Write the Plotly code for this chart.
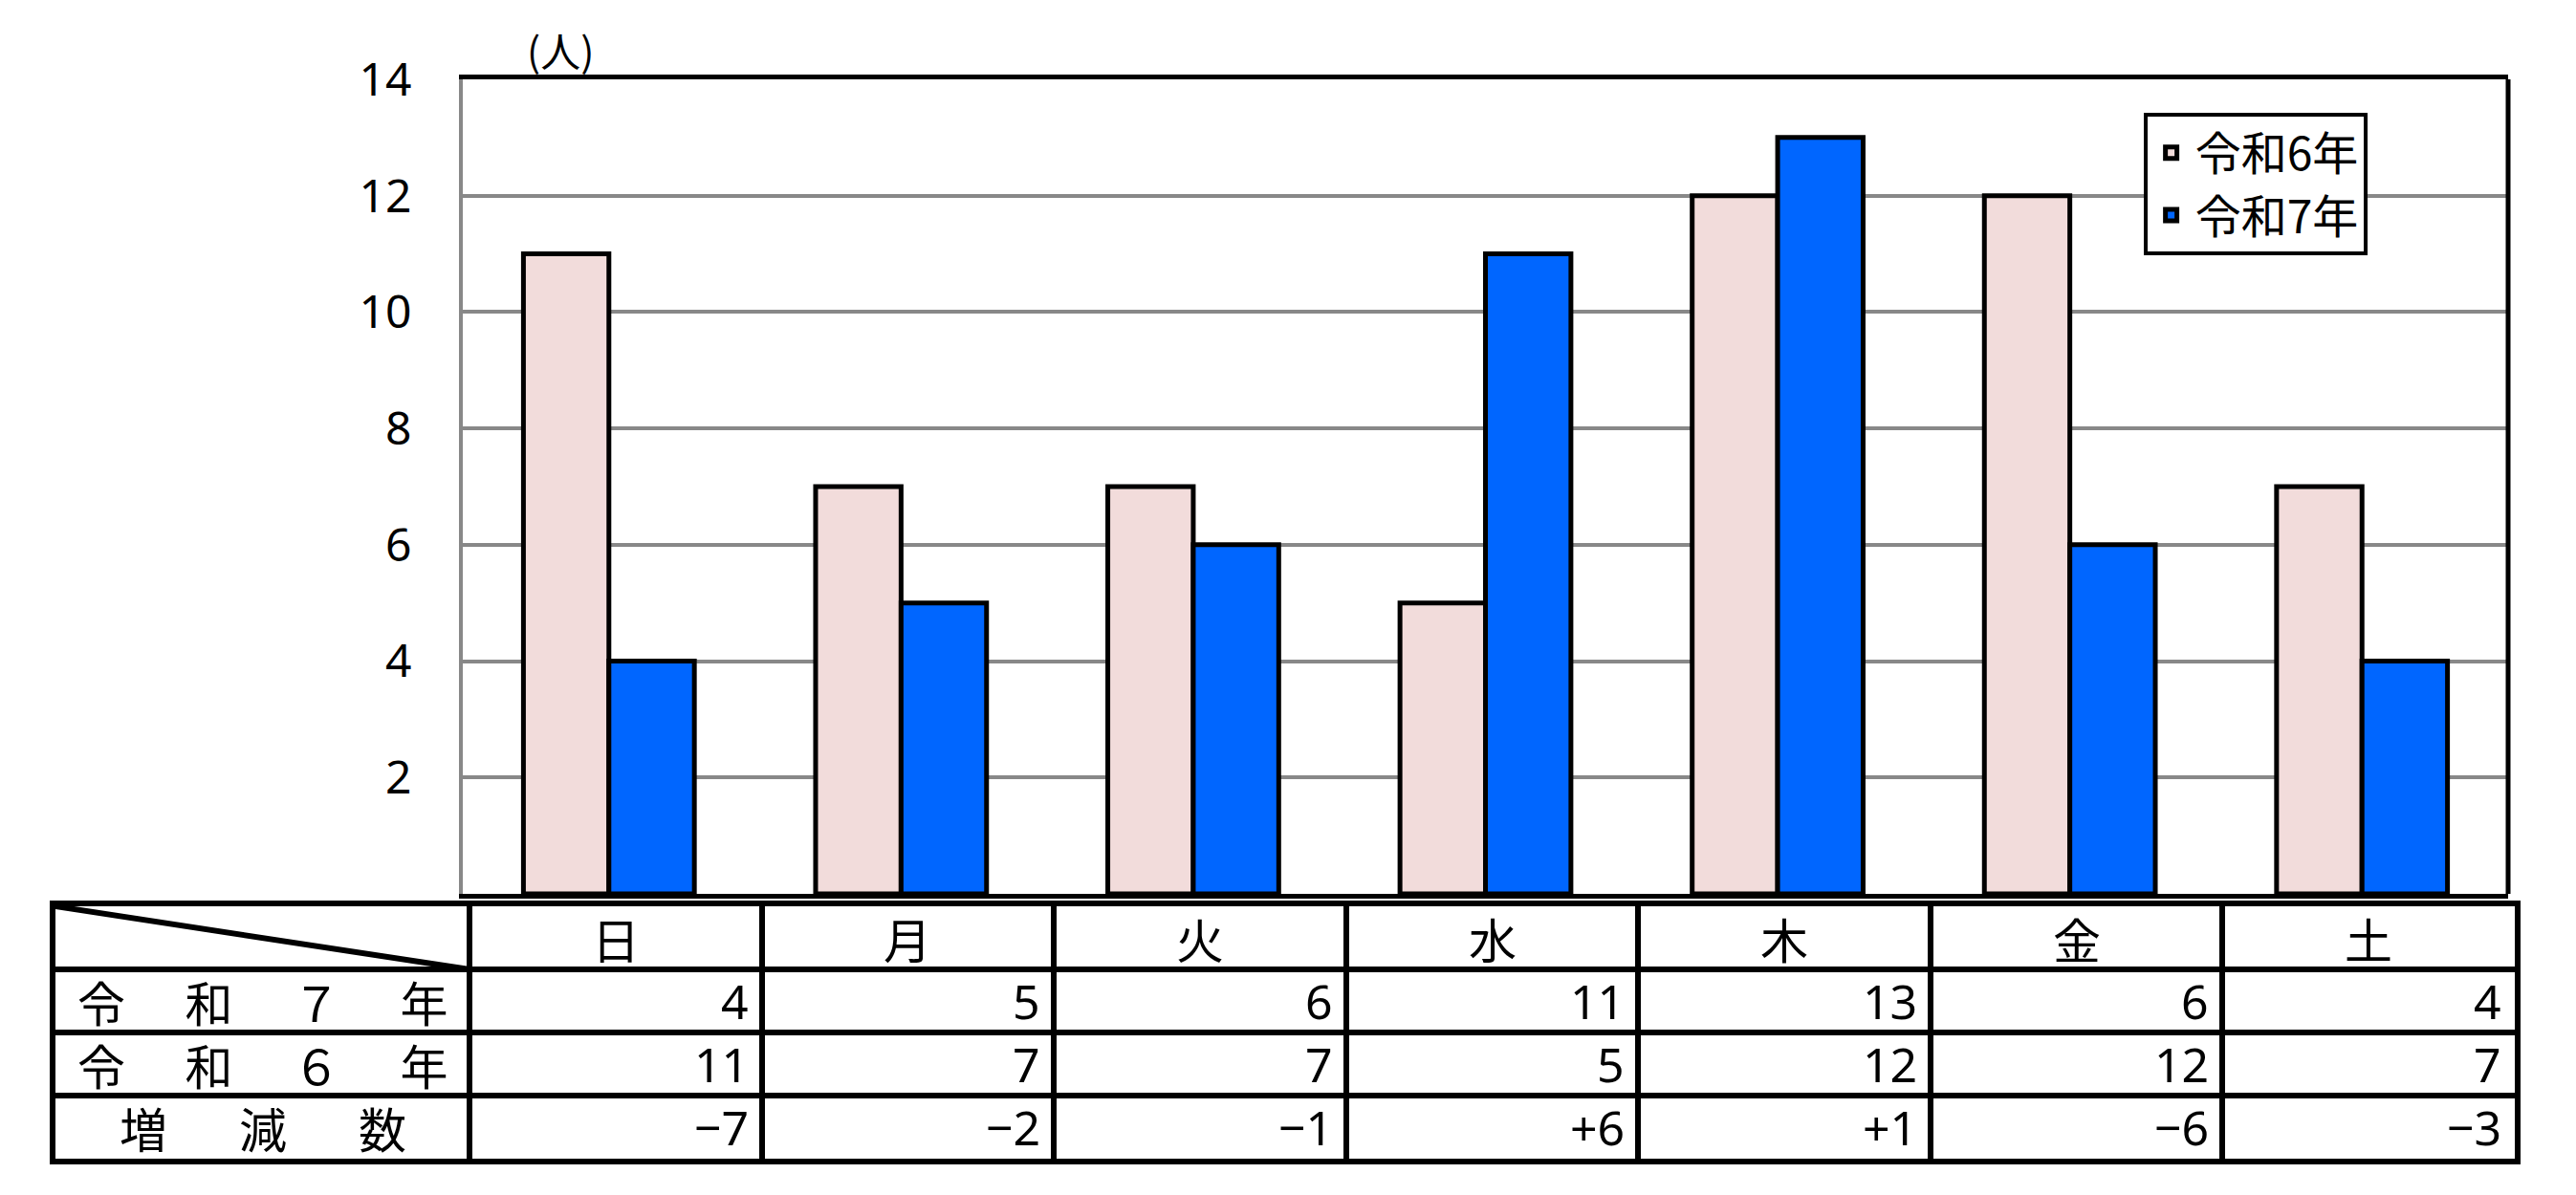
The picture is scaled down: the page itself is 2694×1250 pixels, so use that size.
import plotly.graph_objects as go

# Visitors per weekday
days = ["日", "月", "火", "水", "木", "金", "土"]
r6 = [11, 7, 7, 5, 12, 12, 7]
r7 = [4, 5, 6, 11, 13, 6, 4]
change = [-7, -2, -1, 6, 1, -6, -3]
row_labels = ["令\u3000\u2005和\u3000\u2005７\u3000\u2005年",
              "令\u3000\u2005和\u3000\u2005６\u3000\u2005年",
              "増\u3000\u2002減\u3000\u2002数"]
y_ticks = [2, 4, 6, 8, 10, 12, 14]

PINK = "#F2DCDB"
BLUE = "#0066FF"
FONT = "Noto Sans, Noto Sans CJK JP, sans-serif"
CJK = "Noto Sans CJK JP, sans-serif"
LABEL_W = 1.417  # width of the row-label column, in day-column units

def signed(v):
    if v > 0:
        return "+" + str(v)
    if v < 0:
        return "\u2212" + str(-v)
    return "0"

fig = go.Figure()
fig.add_trace(go.Bar(x=days, y=r6, name="令和6年", marker=dict(color=PINK, line=dict(color="black", width=5))))
fig.add_trace(go.Bar(x=days, y=r7, name="令和7年", marker=dict(color=BLUE, line=dict(color="black", width=5))))

# diagonal in the empty corner cell of the table
fig.add_trace(go.Scatter(x=[-LABEL_W, 0], y=[0, 1], xaxis="x2", yaxis="y2", mode="lines",
                         line=dict(color="black", width=6), showlegend=False, hoverinfo="skip"))

annotations = [
    dict(text="(人)", xref="paper", yref="paper", x=0.191, y=1.0275, yanchor="middle",
         showarrow=False, font=dict(family=CJK, size=42)),
]

# table: header row, then 令和7年 / 令和6年 / 増減数
for i, d in enumerate(days):
    annotations.append(dict(text=d, xref="x2", yref="y2", x=i + 0.5, y=0.5, showarrow=False,
                            font=dict(family=CJK, size=50)))
    rows = [str(r7[i]), str(r6[i]), signed(change[i])]
    for r, t in enumerate(rows):
        annotations.append(dict(text=t, xref="x2", yref="y2", x=i + 1, y=r + 1.5,
                                xanchor="right", xshift=-12, showarrow=False,
                                font=dict(family=FONT, size=50)))
for r, t in enumerate(row_labels):
    annotations.append(dict(text=t, xref="x2", yref="y2", x=-LABEL_W / 2, y=r + 1.5,
                            showarrow=False, font=dict(family=CJK, size=50)))

fig.update_layout(
    width=2694, height=1250,
    margin=dict(l=50, r=72, t=75, b=46),
    paper_bgcolor="white", plot_bgcolor="white",
    barmode="group", bargap=0.415, bargroupgap=0,
    font=dict(family=FONT, color="black"),
    showlegend=True,
    legend=dict(x=0.849, y=0.969, xanchor="left", yanchor="top",
                bordercolor="black", borderwidth=4, bgcolor="white",
                font=dict(family=CJK, size=48), traceorder="normal", itemwidth=40),
    xaxis=dict(domain=[0.16563, 0.99728], showticklabels=False, ticks="",
               showline=True, linecolor="black", linewidth=5, mirror=True,
               showgrid=False),
    yaxis=dict(domain=[0.24535, 1.0], range=[0, 14], tickvals=y_ticks,
               showline=True, linecolor="#888888", linewidth=4,
               showgrid=True, gridcolor="#888888", gridwidth=4,
               zeroline=False, ticks="", ticklabelstandoff=40,
               tickfont=dict(family=FONT, size=48)),
    xaxis2=dict(domain=[0, 1], anchor="y2", range=[-LABEL_W, 7],
                tickvals=[-LABEL_W] + list(range(8)), showticklabels=False, ticks="",
                showgrid=True, gridcolor="black", gridwidth=6, zeroline=False,
                showline=True, linecolor="black", linewidth=6, mirror=True, fixedrange=True),
    yaxis2=dict(domain=[0, 0.2338], anchor="x2", range=[4, 0],
                tickvals=[0, 1, 2, 3, 4], showticklabels=False, ticks="",
                showgrid=True, gridcolor="black", gridwidth=6, zeroline=False,
                showline=True, linecolor="black", linewidth=6, mirror=True, fixedrange=True),
    shapes=[
        dict(type="line", xref="x domain", yref="y domain", x0=1, x1=1, y0=0, y1=1,
             line=dict(color="black", width=5)),
    ],
    annotations=annotations,
)

fig.write_html("out.html")
